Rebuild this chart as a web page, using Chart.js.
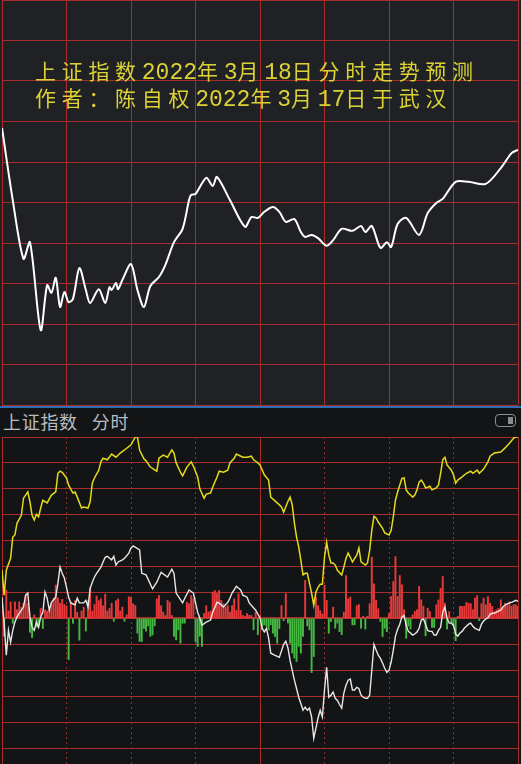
<!DOCTYPE html>
<html>
<head>
<meta charset="utf-8">
<title>上证指数分时</title>
<script src="https://cdn.jsdelivr.net/npm/chart.js@4.4.0/dist/chart.umd.min.js"></script>
<style>
  body { margin:0; background:#131416; overflow:hidden; width:521px; height:764px; position:relative; }
  #top { position:absolute; left:0; top:0; width:521px; height:406px; background:#1f2124; }
  #c1 { position:absolute; left:0; top:0; }
  .title { position:absolute; left:35px; top:58px; color:#dcd235; font-family:"Noto Sans CJK SC"; font-size:21px;
           letter-spacing:5.7px; line-height:24px; white-space:nowrap; }
  .title span { font-family:"Liberation Mono"; font-size:23px; letter-spacing:0; }
  #sep { position:absolute; left:0; top:406px; width:521px; height:2px; background:#2d6db3; }
  #head { position:absolute; left:3px; top:410px; color:#b9bdc1; font-family:"Noto Sans CJK SC"; font-size:18px;
          line-height:22px; letter-spacing:0.7px; white-space:nowrap; }
  #head b { font-weight:normal; margin-left:14px; }
  #ico { position:absolute; left:495px; top:414px; width:19px; height:11px; border:1.5px solid #8a8d90; border-radius:4px; }
  #ico i { position:absolute; right:2px; top:2px; width:5px; height:7px; background:#8a8d90; }
  #c2 { position:absolute; left:0; top:436px; }
</style>
</head>
<body>
<div id="top">
  <canvas id="c1" width="521" height="406"></canvas>
  <div class="title">上证指数<span>2022</span>年<span>3</span>月<span>18</span>日分时走势预测<br>作者：陈自权<span>2022</span>年<span>3</span>月<span>17</span>日于武汉</div>
</div>
<div id="sep"></div>
<div id="head">上证指数<b>分时</b></div>
<div id="ico"><i></i></div>
<canvas id="c2" width="521" height="345"></canvas>

<script>
// forecast (top panel): minute of session, index value
const topMin = [0,5,10,13,18,21,23,25,27,29,31,33,36,39,41,45,48,50,51,53,54,56,60,63,66,69,73,76,80,84,
  87,88,90,95,98,100,106,113,116,119,122,126,129,132,136,139,141,144,147,151,154,158,163,167,169,172,176,179,181,184,
  188,194,198,202,205,211,217,225,232,237,240];
const topVal = [3238.4,3220.6,3206.1,3210.2,3188.5,3199.6,3197.7,3201.4,3194.2,3197.9,3195.4,3196.2,3203.8,3198.4,3195.2,
  3198.6,3195.2,3199.1,3198.4,3200.1,3198.6,3200.9,3204.8,3198.4,3194.2,3199.4,3201.6,3204.6,3210.2,3213.5,
  3220.6,3221.9,3222.1,3226.1,3224.1,3226.3,3220.6,3214.0,3216.4,3216.2,3217.7,3218.9,3217.7,3215.2,3215.9,
  3212.7,3211.5,3212.0,3211.2,3209.3,3210.7,3213.5,3213.0,3214.2,3212.7,3214.2,3208.8,3210.2,3209.0,3214.7,
  3216.2,3212.0,3217.4,3219.9,3220.9,3225.1,3225.1,3224.6,3228.5,3232.2,3233.0];

// actual intraday (bottom panel): yellow = index, white = leading line
const yelMin = [0,1,2,4,5,6,7,9,10,12,13,14,15,16,17,18,19,21,23,25,26,27,28,30,31,33,34,35,37,38,40,41,42,43,45,46,47,49,
  51,53,55,57,60,62,63,64,66,67,69,72,73,75,77,79,80,81,83,84,86,88,89,91,92,94,95,97,98,100,101,103,105,106,108,109,
  112,114,116,117,119,120,122,124,125,128,130,131,133,134,135,136,137,138,139,140,141,142,143,144,145,146,147,148,149,
  150,151,152,153,154,155,156,158,159,160,161,162,163,165,166,167,169,170,171,172,173,174,175,177,178,180,181,182,183,
  184,186,187,188,189,190,191,192,193,194,195,196,197,198,199,200,202,203,204,205,206,207,209,210,211,212,214,216,218,
  219,221,222,224,226,227,229,232,234,236,238,239,240];
const yelVal = [3224.3,3219.5,3224.3,3226.6,3230.7,3231.1,3233.4,3234.9,3238.2,3239.4,3237.5,3234.9,3234.0,3235.1,3234.6,
  3236.3,3237.8,3237.3,3238.8,3239.4,3243.0,3243.4,3243.2,3242.1,3240.7,3239.2,3239.4,3238.4,3236.3,3236.5,3236.3,
  3237.5,3241.1,3242.1,3243.6,3245.2,3245.9,3245.6,3246.7,3246.1,3246.9,3247.5,3248.5,3250.0,3250.0,3247.5,3245.8,
  3245.4,3244.2,3243.4,3245.9,3246.5,3246.1,3247.5,3246.9,3245.0,3243.2,3242.5,3244.2,3245.2,3244.4,3242.3,3240.0,
  3238.2,3239.0,3239.2,3240.3,3242.3,3243.4,3243.2,3243.6,3245.0,3245.9,3246.7,3246.1,3246.1,3246.3,3245.6,3245.0,
  3244.6,3242.7,3241.7,3238.4,3237.3,3236.5,3235.5,3237.6,3238.4,3236.9,3233.4,3230.7,3228.8,3226.2,3223.4,3223.7,
  3223.7,3221.8,3219.9,3217.6,3220.1,3221.0,3221.6,3221.6,3226.8,3229.7,3227.2,3225.7,3225.7,3225.3,3224.3,3223.4,
  3224.9,3226.6,3227.6,3226.8,3225.9,3227.2,3228.6,3225.9,3225.3,3225.7,3228.2,3232.0,3234.7,3234.4,3233.6,3232.4,
  3231.5,3231.1,3232.0,3234.6,3237.8,3239.4,3242.0,3242.1,3239.8,3239.2,3238.8,3238.4,3238.8,3239.8,3241.3,3241.7,
  3241.1,3240.2,3240.3,3240.5,3239.8,3240.2,3240.7,3243.0,3245.6,3246.1,3244.6,3243.6,3242.7,3241.1,3241.7,3242.3,
  3243.0,3243.4,3243.0,3243.6,3243.0,3243.8,3245.2,3246.3,3246.9,3247.1,3247.9,3248.8,3249.8,3250.0,3250.0];

const whtMin = [0,1,2,3,4,5,6,7,8,10,11,12,13,14,15,16,17,18,19,20,21,22,23,25,26,27,28,29,30,31,32,34,35,36,38,39,40,
  41,42,43,44,46,47,48,49,51,52,53,54,56,57,59,60,61,64,65,67,70,72,74,77,79,80,81,84,85,87,89,91,92,93,95,97,98,100,
  101,103,105,106,107,109,111,112,114,115,118,120,121,122,123,124,125,127,129,131,132,133,134,135,136,137,138,139,140,
  141,142,143,144,145,146,147,148,149,150,151,152,153,154,155,156,157,158,159,160,161,162,163,164,165,166,167,168,169,
  170,171,172,173,174,175,176,177,178,179,180,181,182,183,184,185,186,187,188,189,190,191,192,193,194,195,196,197,198,
  199,200,201,202,203,204,205,206,207,208,209,210,211,212,213,214,215,216,217,218,219,220,221,222,223,224,225,226,227,
  228,229,230,231,232,233,234,235,236,237,238,239,240];
const whtVal = [3219.1,3214.1,3207.9,3212.7,3210.4,3212.7,3214.3,3215.3,3216.0,3217.2,3219.5,3219.9,3215.3,3213.3,3212.7,
  3214.3,3213.3,3215.3,3216.2,3220.1,3218.9,3216.6,3218.1,3219.1,3221.8,3224.9,3223.7,3222.8,3221.0,3219.1,3218.0,
  3217.6,3218.9,3218.0,3218.0,3218.5,3217.2,3220.8,3222.0,3223.0,3223.7,3224.9,3225.9,3226.8,3227.0,3226.3,3227.0,
  3225.3,3225.9,3226.3,3226.6,3227.6,3228.6,3229.0,3228.2,3223.7,3223.4,3220.7,3222.0,3223.9,3223.0,3224.5,3223.7,
  3219.9,3218.0,3218.9,3220.5,3219.9,3216.2,3215.1,3213.7,3214.3,3214.7,3216.2,3218.1,3218.0,3217.2,3218.1,3218.9,
  3219.9,3221.2,3220.5,3219.5,3219.1,3218.0,3216.6,3215.1,3213.1,3212.4,3213.1,3211.2,3208.3,3207.9,3207.5,3210.0,
  3210.6,3209.3,3206.9,3205.0,3203.1,3201.5,3199.8,3198.6,3197.3,3197.9,3197.3,3197.7,3196.0,3191.9,3193.8,3195.8,
  3197.3,3196.0,3201.2,3205.6,3199.8,3200.2,3200.8,3199.6,3199.2,3198.4,3197.7,3200.6,3202.1,3203.1,3203.3,3201.2,
  3201.2,3201.7,3201.5,3200.2,3199.8,3199.6,3199.6,3200.2,3205.0,3210.0,3208.9,3207.9,3207.3,3206.4,3205.4,3204.6,
  3205.0,3206.6,3208.9,3211.6,3212.9,3213.9,3215.3,3215.6,3213.7,3212.5,3212.2,3211.8,3212.0,3212.4,3213.1,3214.7,
  3214.9,3213.9,3212.7,3212.5,3212.5,3211.8,3211.8,3212.7,3213.3,3216.2,3217.2,3215.1,3214.1,3214.1,3213.7,3212.0,
  3211.6,3212.2,3212.5,3213.1,3213.5,3213.9,3214.1,3213.5,3213.1,3212.9,3212.7,3213.9,3214.5,3214.9,3215.1,3215.8,
  3216.0,3216.0,3216.2,3216.4,3216.6,3217.2,3217.6,3217.8,3218.0,3218.1,3218.3,3218.5,3218.3];

// red/green bars, one per minute (0..240), in grid units
const barVal = [0.6,-0.7,1.1,0.3,0.65,-0.2,0.65,0.35,0.65,0.45,
  0.6,0.9,0.6,-0.55,-0.75,0.15,-0.35,-0.3,0.4,-0.4,
  0.35,0.3,0.35,0.6,0.8,1.3,0.8,0.6,0.75,0.55,
  0.5,-1.6,0.65,-0.2,0.7,0.25,-0.85,0.3,0.45,-0.5,
  0.7,1.2,0.3,0.55,0.88,0.7,0.77,0.5,0.95,0.3,
  0.4,0.6,-0.12,0.7,0.77,0.3,0.45,-0.12,0.15,0.85,
  0.84,0.58,0.51,-0.58,-0.9,-0.9,-0.4,-0.5,-0.3,-0.7,
  -0.65,-0.3,0.77,0.9,0.5,0.26,0.13,0.71,0.64,0.13,
  -0.71,-0.84,-0.45,-0.97,-0.2,-0.19,0.64,0.58,0.9,0.77,
  -0.9,-1.09,-0.7,-1.09,0.2,0.51,0.26,0.3,1.03,1.09,
  0.97,1.09,0.71,0.58,0.45,0.51,0.26,0.51,0.77,0.32,
  0.97,0.32,0.13,0.09,0.2,0.13,0.13,-0.45,0.26,-0.64,
  0.1,-0.45,-0.26,-0.32,-0.45,-0.26,-0.58,-0.71,-0.97,-0.4,
  0.51,-0.1,0.97,-0.19,-0.97,-1.35,-1.54,-1.67,-1.09,-1.35,
  -0.71,1.48,-0.3,-0.45,-2.1,-1.48,0.84,0.51,0.32,0.19,
  1.29,0.71,-0.58,-0.13,0.45,-0.39,-0.19,-0.52,-0.64,0.26,
  1.67,0.77,0.84,-0.26,-0.26,0.51,0.55,-0.39,0.1,-0.42,
  0.1,0.58,2.38,1.35,0.71,0.39,-0.13,-0.71,-0.39,-0.52,
  0.2,0.86,1.44,2.4,0.86,1.67,1.31,0.35,-0.78,-0.3,
  -0.42,0.15,0.28,0.35,1.25,0.73,0.48,-0.68,0.41,0.28,
  -0.36,-0.36,0.54,0.73,1.18,1.63,0.6,-0.42,0.28,-0.17,
  -0.3,-0.87,0.1,0.48,0.48,0.48,0.63,0.6,0.58,0.35,
  0.8,0.89,-0.1,0.58,0.8,0.54,0.86,0.6,0.48,0.28,
  0.35,0.4,0.73,0.41,0.6,0.54,0.66,0.48,0.55,0.54,
  0.48];

const gridRed = '#a82c2c';
const pts = (xs, ys) => xs.map((x, i) => ({x: x, y: ys[i]}));

function hiddenAxis(min, max, step, extra) {
  return Object.assign({
    type: 'linear', min: min, max: max, offset: false,
    ticks: {display: false, stepSize: step, maxTicksLimit: 30},
    grid: {color: gridRed, drawTicks: false, offset: false},
    border: {display: false}
  }, extra || {});
}

new Chart(document.getElementById('c1'), {
  type: 'line',
  data: {datasets: [{
    data: pts(topMin, topVal),
    borderColor: '#ffffff', borderWidth: 2, pointRadius: 0, tension: 0.3
  }]},
  options: {
    responsive: false, animation: false,
    layout: {padding: {left: 2, right: 3, top: 0, bottom: 1}},
    plugins: {legend: {display: false}, tooltip: {enabled: false}},
    scales: {
      x: hiddenAxis(0, 240, 30),
      y: hiddenAxis(3170, 3270, 10)
    }
  }
});

const solidMin = [0, 120, 240];
new Chart(document.getElementById('c2'), {
  type: 'line',
  data: {datasets: [
    {data: pts(yelMin, yelVal), borderColor: '#e4da1c', borderWidth: 1.5, pointRadius: 0, tension: 0, order: 1},
    {data: pts(whtMin, whtVal), borderColor: '#e6e6e6', borderWidth: 1.4, pointRadius: 0, tension: 0, order: 2},
    {type: 'bar', data: barVal.map((v, i) => ({x: i, y: v})), yAxisID: 'y2', order: 3,
     backgroundColor: c => c.raw && c.raw.y >= 0 ? '#e83a3a' : '#44b840',
     barPercentage: 0.9, categoryPercentage: 1}
  ]},
  options: {
    responsive: false, animation: false,
    layout: {padding: {left: 2, right: 3, top: 1, bottom: 7}},
    plugins: {legend: {display: false}, tooltip: {enabled: false}},
    scales: {
      x: hiddenAxis(0, 240, 30, {
        grid: {drawTicks: false, offset: false,
               color: c => c.tick && solidMin.includes(c.tick.value) ? gridRed : 'transparent'}
      }),
      x2: hiddenAxis(0, 240, 30, {
        position: 'top',
        grid: {drawTicks: false, offset: false,
               color: c => c.tick && solidMin.includes(c.tick.value) ? 'transparent' : '#963030'},
        border: {display: false, dash: [2, 3]}
      }),
      y: hiddenAxis(3185, 3250, 5, {
        grid: {drawTicks: false, color: gridRed,
               lineWidth: c => c.tick && c.tick.value === 3215 ? 2 : 1}
      }),
      y2: {type: 'linear', display: false, min: -6, max: 7}
    }
  }
});
</script>
</body>
</html>
